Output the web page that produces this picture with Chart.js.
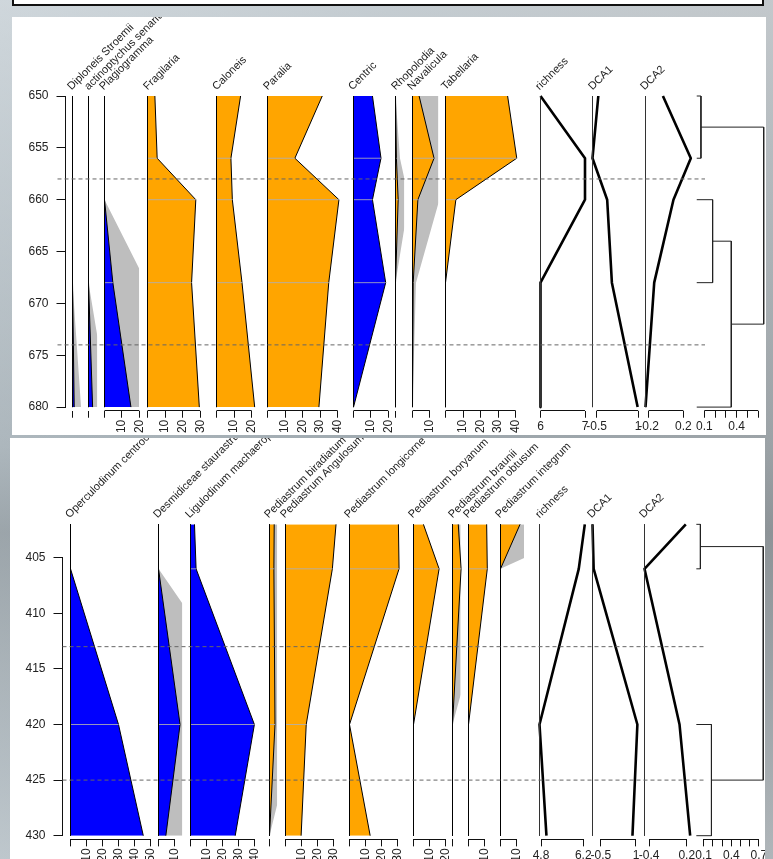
<!DOCTYPE html>
<html>
<head>
<meta charset="utf-8">
<script src="https://cdn.jsdelivr.net/npm/chart.js@4.4.1/dist/chart.umd.min.js"></script>
<style>
  html, body { margin: 0; padding: 0; }
  body {
    width: 773px; height: 859px; overflow: hidden; position: relative;
    background:
      linear-gradient(180deg, rgba(225,231,235,0.55) 0, rgba(150,160,166,0.35) 52%, rgba(120,128,133,0.45) 62%, rgba(196,204,209,0.45) 100%),
      linear-gradient(90deg, #b9c3c9 0, #a3adb3 50%, #9ea3a6 100%);
    font-family: "Liberation Sans", Arial, sans-serif;
  }
  #titleBox {
    position: absolute; left: 12px; top: -10px; width: 748px; height: 12px;
    background: #fff; border: 2px solid #111;
  }
  .panel { position: absolute; background: #fff; overflow: hidden; }
  .panel canvas { position: absolute; }
  .colLabel {
    position: absolute; white-space: nowrap; font-size: 11px; line-height: 12px;
    color: #222; transform-origin: 0 100%; transform: rotate(-45deg); z-index: 6;
  }
</style>
</head>
<body>
<div id="titleBox"></div>
<div class="panel" id="panelTop"></div>
<div class="panel" id="panelBottom"></div>
<script>
// ---------- upper diagram: diatoms, depth 650-680 ----------
const topDepths = [650, 656, 660, 668, 680];
const topDepthTicks = [650, 655, 660, 665, 670, 675, 680];
const topZones = [658, 674];

const diploneis = [0, 0, 0, 0, 1.0];
const actinoptychus = [0, 0, 0, 0, 2.3];
const plagiogramma = [0, 0, 0, 4.8, 15.2];
const fragilaria = [4.2, 5.5, 27.5, 25.1, 29.5];
const caloneis = [13.7, 8.2, 9.0, 14.5, 21.7];
const paralia = [31.2, 15.6, 40.7, 34.9, 29.3];
const centric = [10.9, 15.8, 10.9, 18.5, 0];
const rhopolodia = [0, 0.5, 1.5, 0, 0];
const navalicula = [3.8, 12.4, 3.1, 0.4, 0];
const tabellaria = [35.4, 40.6, 5.9, 0, 0];
const topRichness = [6, 7, 7, 6, 6];
const topDca1 = [-0.44, -0.65, -0.12, 0.05, 0.98];
const topDca2 = [-0.035, 0.285, 0.086, -0.135, -0.235];
// [cluster a, cluster b, height]; leaves are 0..n-1, each merge makes a new cluster
const topMerges = [[0, 1, 0.069], [2, 3, 0.177], [6, 4, 0.35], [5, 7, 0.65]];

const topRichTicks = [6, 7];
const topDca1Ticks = [-0.5, 1];
const topDca2Ticks = [-0.2, 0.2];
const topDendroTicks = [0.1, 0.2, 0.3, 0.4, 0.5, 0.6];
const topDendroLabels = [0.1, 0.4];

// ---------- lower diagram: dinocysts & algae, depth 402-430 ----------
const bottomDepths = [402, 406, 420, 430];
const bottomDepthTicks = [405, 410, 415, 420, 425, 430];
const bottomZones = [413, 425];

const operculodinum = [0, 0, 30.0, 45.5];
const desmidiceae = [0, 0, 13.5, 4.6];
const ligulodinum = [2.5, 3.5, 40.0, 28.0];
const biradiatum = [3.0, 2.8, 3.5, 0];
const angulosum = [31.7, 29.4, 13.0, 9.8];
const longicorne = [30.5, 30.9, 0, 12.9];
const boryanum = [6.2, 16.0, 0, 0];
const braunii = [3.5, 5.2, 0, 0];
const obtusum = [11.4, 11.8, 0, 0];
const integrum = [12.4, 0, 0, 0];
const bottomRichness = [6.25, 6.05, 4.75, 4.98];
const bottomDca1 = [-0.86, -0.81, 1.06, 0.85];
const bottomDca2 = [0.185, -0.475, 0.085, 0.255];
const bottomMerges = [[0, 1, 0.064], [2, 3, 0.184], [4, 5, 0.747]];

const bottomRichTicks = [4.8, 6.2];
const bottomDca1Ticks = [-0.5, 1];
const bottomDca2Ticks = [-0.4, 0.2];
const bottomDendroTicks = [0.1, 0.2, 0.3, 0.4, 0.5, 0.6, 0.7];
const bottomDendroLabels = [0.1, 0.4, 0.7];

const pct0 = [0];
const pct10 = [0, 10];
const pct20 = [0, 10, 20];
const pct30 = [0, 10, 20, 30];
const pct40 = [0, 10, 20, 30, 40];
const pct50 = [0, 10, 20, 30, 40, 50];

const EXAG = 5;
const ORANGE = "#FFA500";
const BLUE = "#0000FF";
const GREY = "#BEBEBE";
const FONT = '"Liberation Sans", Arial, sans-serif';

Chart.defaults.font.family = FONT;
Chart.defaults.font.size = 12;
Chart.defaults.color = "#222";

// panel layout (page pixels)
const panels = {
  top: {
    el: "panelTop", box: { left: 12, top: 17, width: 754, height: 418 },
    depths: topDepths, d0: 650, y0: 96, ppd: 10.37, ext: 0.35,
    yAxisX: 65, yTicks: topDepthTicks, zones: topZones, zoneX: [57, 705],
    pctPx: 1.75,
    columns: [
      { label: "Diploneis Stroemii", values: diploneis, color: BLUE, left: 72.3, max: 5, ticks: pct0, exag: true },
      { label: "actinoptychus senarius", values: actinoptychus, color: BLUE, left: 88.7, max: 5, ticks: pct0, exag: true },
      { label: "Plagiogramma", values: plagiogramma, color: BLUE, left: 104.3, max: 20, ticks: pct20, exag: true },
      { label: "Fragilaria", values: fragilaria, color: ORANGE, left: 147.7, max: 30, ticks: pct30 },
      { label: "Caloneis", values: caloneis, color: ORANGE, left: 216.7, max: 22, ticks: pct20 },
      { label: "Paralia", values: paralia, color: ORANGE, left: 267.7, max: 41, ticks: pct40 },
      { label: "Centric", values: centric, color: BLUE, left: 353.3, max: 20, ticks: pct20 },
      { label: "Rhopolodia", values: rhopolodia, color: ORANGE, left: 395.7, max: 5, ticks: pct0, exag: true },
      { label: "Navalicula", values: navalicula, color: ORANGE, left: 412.3, max: 15, ticks: pct10, exag: true },
      { label: "Tabellaria", values: tabellaria, color: ORANGE, left: 445.7, max: 41, ticks: pct40 }
    ],
    lines: [
      { label: "richness", values: topRichness, left: 540, min: 6, max: 7, ppu: 45, ticks: topRichTicks },
      { label: "DCA1", values: topDca1, left: 592.5, min: -0.65, max: 1.0, ppu: 27.7, ticks: topDca1Ticks },
      { label: "DCA2", values: topDca2, left: 645.3, min: -0.235, max: 0.285, ppu: 87.5, ticks: topDca2Ticks }
    ],
    dendro: { merges: topMerges, hang: 0.03, left: 693.1, max: 0.65, ppu: 108.6, ticks: topDendroTicks, labels: topDendroLabels }
  },
  bottom: {
    el: "panelBottom", box: { left: 10, top: 438, width: 755, height: 430 },
    depths: bottomDepths, d0: 405, y0: 557.7, ppd: 11.12, ext: 0.33,
    yAxisX: 62.7, yTicks: bottomDepthTicks, zones: bottomZones, zoneX: [62, 705],
    pctPx: 1.61,
    columns: [
      { label: "Operculodinum centrocarpum", values: operculodinum, color: BLUE, left: 70, max: 50, ticks: pct50 },
      { label: "Desmidiceae staurastrum", values: desmidiceae, color: BLUE, left: 158.3, max: 15, ticks: pct10, exag: true },
      { label: "Ligulodinum machaerophorum", values: ligulodinum, color: BLUE, left: 190, max: 40, ticks: pct40 },
      { label: "Pediastrum biradiatum", values: biradiatum, color: ORANGE, left: 269.3, max: 5, ticks: pct0, exag: true },
      { label: "Pediastrum Angulosum", values: angulosum, color: ORANGE, left: 285, max: 32, ticks: pct30 },
      { label: "Pediastrum longicorne", values: longicorne, color: ORANGE, left: 349.3, max: 31, ticks: pct30 },
      { label: "Pediastrum boryanum", values: boryanum, color: ORANGE, left: 413.3, max: 20, ticks: pct20 },
      { label: "Pediastrum braunii", values: braunii, color: ORANGE, left: 452.7, max: 5, ticks: pct0, exag: true },
      { label: "Pediastrum obtusum", values: obtusum, color: ORANGE, left: 468.3, max: 12, ticks: pct10 },
      { label: "Pediastrum integrum", values: integrum, color: ORANGE, left: 500, max: 15, ticks: pct10, exag: true }
    ],
    lines: [
      { label: "richness", values: bottomRichness, left: 539.5, min: 4.75, max: 6.25, ppu: 30.2, ticks: bottomRichTicks },
      { label: "DCA1", values: bottomDca1, left: 592.2, min: -0.86, max: 1.06, ppu: 23.53, ticks: bottomDca1Ticks },
      { label: "DCA2", values: bottomDca2, left: 644.3, min: -0.475, max: 0.255, ppu: 62.83, ticks: bottomDca2Ticks }
    ],
    dendro: { merges: bottomMerges, hang: 0.02, left: 694.8, max: 0.75, ppu: 91.67, ticks: bottomDendroTicks, labels: bottomDendroLabels }
  }
};

// draws the x axis line only between first and last tick, like R's axis()
const axisLinePlugin = {
  id: "axisLine",
  afterDraw(chart) {
    const s = chart.scales.x;
    if (!s || !s.options.display || s.ticks.length < 2) return;
    const ctx = chart.ctx;
    const x0 = s.getPixelForValue(s.ticks[0].value);
    const x1 = s.getPixelForValue(s.ticks[s.ticks.length - 1].value);
    const y = Math.floor(s.top) + 0.5;
    ctx.save();
    ctx.strokeStyle = "#111";
    ctx.lineWidth = 1;
    ctx.beginPath();
    ctx.moveTo(x0, y);
    ctx.lineTo(x1, y);
    ctx.stroke();
    ctx.restore();
  }
};

function toPoints(depths, vals) {
  return depths.map((d, i) => ({ x: vals[i], y: d }));
}

// exaggerated curve, clipped at the column width
function exagPoints(depths, vals, mult, clip) {
  const pts = [];
  for (let i = 0; i < depths.length; i++) {
    const v = vals[i] * mult;
    if (i > 0) {
      const pv = vals[i - 1] * mult;
      if ((pv - clip) * (v - clip) < 0) {
        const t = (clip - pv) / (v - pv);
        pts.push({ x: clip, y: depths[i - 1] + t * (depths[i] - depths[i - 1]) });
      }
    }
    pts.push({ x: Math.min(v, clip), y: depths[i] });
  }
  return pts;
}

function dendroSegments(depths, merges, hang) {
  const pos = depths.slice();
  const hgt = depths.map(() => hang);
  const segs = [];
  merges.forEach(function (m) {
    const a = m[0], b = m[1], h = m[2];
    segs.push([{ x: hgt[a], y: pos[a] }, { x: h, y: pos[a] }]);
    segs.push([{ x: hgt[b], y: pos[b] }, { x: h, y: pos[b] }]);
    const lo = Math.min(pos[a], pos[b]), hi = Math.max(pos[a], pos[b]);
    segs.push([{ x: h, y: lo }, { x: h, y: hi }]);
    pos.push((pos[a] + pos[b]) / 2);
    hgt.push(h);
  });
  return segs;
}

function xAxis(min, max, ticks, rot, fmt) {
  // a single rotated tick makes chart.js pad the area away, so keep it flat
  if (ticks.length < 2) rot = 0;
  return {
    type: "linear", min: min, max: max, position: "bottom",
    border: { display: false },
    grid: { drawOnChartArea: false, drawTicks: true, tickLength: 7, color: "#111", lineWidth: 1 },
    ticks: {
      autoSkip: false, minRotation: rot, maxRotation: rot, padding: 2,
      font: { size: 12 }, color: "#222",
      callback: function (v) { return fmt(v); }
    },
    afterBuildTicks: function (s) { s.ticks = ticks.map(v => ({ value: v })); },
    afterFit: function (s) { s.height = 40; }
  };
}

function hiddenY(ymin, ymax) {
  return { type: "linear", reverse: true, min: ymin, max: ymax, display: false };
}

function addChart(panel, areaLeft, areaRight, ymin, ymax, cfg) {
  // generous padding so chart.js never needs to move the plot area for labels
  const padL = 18, padR = 18, padT = 20, padB = 20;
  const xAxisH = cfg.xAxisH || 0;
  const yAxisW = cfg.yAxisW || 0;
  areaLeft = Math.round(areaLeft - 0.5) + 0.5;
  const areaTop = panel.y0 + (ymin - panel.d0) * panel.ppd;
  const areaH = (ymax - ymin) * panel.ppd;
  const cLeft = Math.floor(areaLeft - padL - yAxisW);
  const cTop = Math.floor(areaTop - padT);
  const W = Math.ceil(areaRight + padR) - cLeft;
  const H = Math.ceil(areaTop - cTop + areaH + xAxisH + padB);
  const pl = areaLeft - yAxisW - cLeft;
  const pr = cLeft + W - areaRight;
  const pt = areaTop - cTop;
  const pb = H - pt - areaH - xAxisH;

  const canvas = document.createElement("canvas");
  canvas.width = W;
  canvas.height = H;
  canvas.style.width = W + "px";
  canvas.style.height = H + "px";
  canvas.style.left = (cLeft - panel.box.left) + "px";
  canvas.style.top = (cTop - panel.box.top) + "px";
  canvas.style.zIndex = cfg.z || 1;
  panel.node.appendChild(canvas);

  return new Chart(canvas, {
    type: "line",
    data: { datasets: cfg.datasets },
    options: {
      responsive: false, animation: false, devicePixelRatio: 1,
      indexAxis: "y", events: [],
      layout: { padding: { left: pl, right: pr, top: pt, bottom: pb } },
      elements: { point: { radius: 0 }, line: { tension: 0 } },
      plugins: { legend: { display: false }, tooltip: { enabled: false } },
      scales: cfg.scales
    },
    plugins: [axisLinePlugin]
  });
}

function addLabel(panel, text, left) {
  const div = document.createElement("div");
  div.className = "colLabel";
  div.textContent = text;
  const bottom = panel.y0 + (panel.depths[0] - panel.d0) * panel.ppd - 4;
  div.style.left = (left + 1 - panel.box.left) + "px";
  div.style.top = (bottom - 12 - panel.box.top) + "px";
  panel.node.appendChild(div);
}

function drawPanel(panel) {
  const node = document.getElementById(panel.el);
  node.style.left = panel.box.left + "px";
  node.style.top = panel.box.top + "px";
  node.style.width = panel.box.width + "px";
  node.style.height = panel.box.height + "px";
  panel.node = node;

  const depths = panel.depths;
  const ymin = depths[0];
  const ymax = depths[depths.length - 1] + panel.ext;
  const last = depths.length - 1;

  // depth axis
  const yTicks = panel.yTicks;
  addChart(panel, panel.yAxisX, panel.yAxisX + 1, yTicks[0], yTicks[yTicks.length - 1], {
    yAxisW: 50,
    datasets: [],
    scales: {
      x: { type: "linear", min: 0, max: 1, display: false },
      y: {
        type: "linear", reverse: true, min: yTicks[0], max: yTicks[yTicks.length - 1], position: "left",
        border: { display: true, color: "#111", width: 1 },
        grid: { drawOnChartArea: false, tickLength: 9, color: "#111" },
        ticks: { autoSkip: false, padding: 8, font: { size: 12 }, color: "#222", callback: v => String(v) },
        afterBuildTicks: function (s) { s.ticks = yTicks.map(v => ({ value: v })); },
        afterFit: function (s) { s.width = 50; }
      }
    }
  });

  // percentage columns
  panel.columns.forEach(function (col) {
    const right = col.left + col.max * panel.pctPx;
    const ds = [];
    if (col.exag) {
      ds.push({
        data: exagPoints(depths, col.values, EXAG, col.max),
        borderWidth: 0, borderColor: "rgba(0,0,0,0)", backgroundColor: GREY,
        fill: { value: 0 }, order: 4, clip: false
      });
    }
    ds.push({
      data: toPoints(depths, col.values),
      borderWidth: 1, borderColor: "#000", backgroundColor: col.color,
      fill: { value: 0 }, order: 3, clip: false
    });
    depths.forEach(function (d, i) {
      if (i > 0 && i < last && col.values[i] > 0) {
        ds.push({
          data: [{ x: 0, y: d }, { x: col.values[i], y: d }],
          borderWidth: 1, borderColor: "rgba(175,175,180,0.85)", fill: false, order: 2, clip: false
        });
      }
    });
    ds.push({
      data: [{ x: 0, y: depths[0] }, { x: 0, y: depths[last] }],
      borderWidth: 1, borderColor: "#000", fill: false, order: 1, clip: false
    });
    addChart(panel, col.left, right, ymin, ymax, {
      xAxisH: 40, datasets: ds,
      scales: {
        x: xAxis(0, col.max, col.ticks, 90, v => (v === 0 ? "" : String(v))),
        y: hiddenY(ymin, ymax)
      }
    });
    addLabel(panel, col.label, col.left);
  });

  // richness and DCA curves
  panel.lines.forEach(function (ln) {
    const right = ln.left + (ln.max - ln.min) * ln.ppu;
    const ds = [
      {
        data: toPoints(depths, ln.values),
        borderWidth: 2.6, borderColor: "#000", borderJoinStyle: "round",
        fill: false, order: 2, clip: false
      },
      {
        data: [{ x: ln.min, y: depths[0] }, { x: ln.min, y: depths[last] }],
        borderWidth: 1, borderColor: "#333", fill: false, order: 1, clip: false
      }
    ];
    addChart(panel, ln.left, right, ymin, ymax, {
      xAxisH: 40, datasets: ds,
      scales: {
        x: xAxis(ln.min, ln.max, ln.ticks, 0, v => String(v)),
        y: hiddenY(ymin, ymax)
      }
    });
    addLabel(panel, ln.label, ln.left);
  });

  // CONISS dendrogram
  const dg = panel.dendro;
  const segs = dendroSegments(depths, dg.merges, dg.hang);
  addChart(panel, dg.left, dg.left + dg.max * dg.ppu, ymin, ymax, {
    xAxisH: 40,
    datasets: segs.map(s => ({ data: s, borderWidth: 1, borderColor: "#222", fill: false, clip: false })),
    scales: {
      x: xAxis(0, dg.max, dg.ticks, 0, v => (dg.labels.indexOf(v) >= 0 ? String(v) : "")),
      y: hiddenY(ymin, ymax)
    }
  });

  // zone boundaries
  addChart(panel, panel.zoneX[0], panel.zoneX[1], ymin, ymax, {
    z: 5,
    datasets: panel.zones.map(z => ({
      data: [{ x: 0, y: z }, { x: 1, y: z }],
      borderWidth: 1, borderColor: "#666", borderDash: [4, 3], fill: false, clip: false
    })),
    scales: {
      x: { type: "linear", min: 0, max: 1, display: false },
      y: hiddenY(ymin, ymax)
    }
  });
}

drawPanel(panels.top);
drawPanel(panels.bottom);
</script>
</body>
</html>
